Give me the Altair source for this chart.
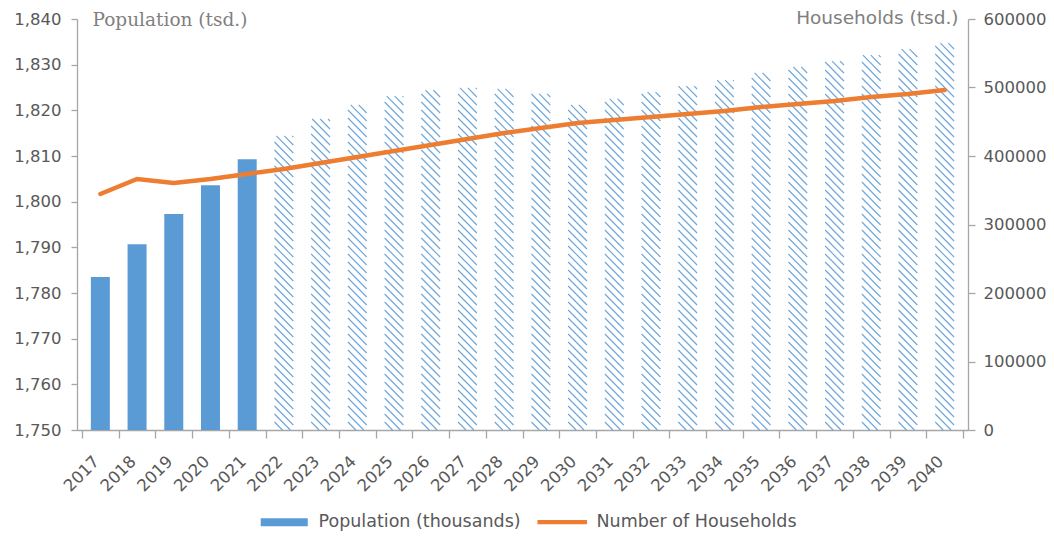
import altair as alt
import pandas as pd

years = list(range(2017, 2041))
population = [1783.5, 1790.7, 1797.3, 1803.6, 1809.3, 1814.4, 1818.1, 1821.2,
              1823.1, 1824.4, 1824.9, 1824.7, 1823.6, 1821.2, 1822.5, 1824.0,
              1825.3, 1826.6, 1828.2, 1829.5, 1830.8, 1832.1, 1833.4, 1834.7]
households = [344500, 366400, 360600, 366400, 373700, 381000, 389800, 398500,
              407300, 416000, 424800, 433600, 440900, 448200, 452600, 456900,
              461300, 465700, 471500, 475900, 480300, 486100, 490500, 496400]
last_actual_year = 2021
series_names = ["Population (thousands)", "Number of Households"]
series_colors = ["#5B9BD5", "#ED7D31"]

W, H = 891, 411
Y0, Y1 = 1750, 1840
X0, X1 = 2016.5, 2040.5
BAR_PX = 19
HATCH_GAP = 8

df = pd.DataFrame({"year": years, "pop": population, "hh": households})
df["kind"] = ["actual" if y <= last_actual_year else "forecast" for y in years]
legend_df = pd.DataFrame({"series": series_names})

pxx = W / (X1 - X0)   # px per year
pxu = H / (Y1 - Y0)   # px per population unit

x_scale = alt.Scale(domain=[X0, X1], nice=False, zero=False)
y_scale = alt.Scale(domain=[Y0, Y1], nice=False, zero=False)

# ticks at category boundaries, labels shifted half a category to the right
tick_vals = [X0 + i for i in range(int(X1 - X0) + 1)]
x_axis = alt.Axis(
    values=tick_vals, title=None,
    labelExpr=f"datum.value < {X1} ? format(datum.value + 0.5, 'd') : ''",
    labelOffset=pxx / 2 - 10,
    labelAngle=-45, labelOverlap=False, labelFlush=False, labelBound=False,
    grid=False, tickSize=8, labelPadding=15,
)
y_axis = alt.Axis(
    values=list(range(Y0, Y1 + 1, 10)), format=",d", grid=False,
    title="Population (tsd.)", titleAngle=0, titleX=15, titleY=0,
    titleAlign="left", titleBaseline="middle", titleFont="DejaVu Serif",
    titleFontSize=18.5, titleFontWeight="normal", titleColor="#7F7F7F",
    tickSize=6, labelPadding=10,
)
y2_axis = alt.Axis(
    values=list(range(0, 600001, 100000)), format="d", grid=False, orient="right",
    title="Households (tsd.)", titleAngle=0, titleX=-10, titleY=-2,
    titleAlign="right", titleBaseline="middle", titleFont="DejaVu Sans",
    titleFontSize=18.5, titleFontWeight="normal", titleColor="#7F7F7F",
    tickSize=7, labelPadding=8,
)

base = alt.Chart(df)

hatch = base.transform_filter(
    alt.datum.kind == "forecast"
).transform_calculate(
    k="sequence(1, 120)"
).transform_flatten(["k"]).transform_calculate(
    hpx=f"(datum.pop - {Y0}) * {pxu}",
    c=f"datum.k * {HATCH_GAP}",
).transform_calculate(
    u0="max(0, datum.c - datum.hpx)",
    u1=f"min({BAR_PX}, datum.c)",
).transform_filter(
    "datum.u0 < datum.u1"
).transform_calculate(
    xa=f"datum.year - {BAR_PX / 2 / pxx} + datum.u0 / {pxx}",
    xb=f"datum.year - {BAR_PX / 2 / pxx} + datum.u1 / {pxx}",
    ya=f"{Y0} + (datum.c - datum.u0) / {pxu}",
    yb=f"{Y0} + (datum.c - datum.u1) / {pxu}",
).mark_rule(color=series_colors[0], strokeWidth=1.1, opacity=0.9).encode(
    x=alt.X("xa:Q", scale=x_scale, axis=x_axis),
    x2="xb:Q",
    y=alt.Y("ya:Q", scale=y_scale, axis=y_axis),
    y2="yb:Q",
)

bars = base.transform_filter(alt.datum.kind == "actual").mark_bar(
    color=series_colors[0], size=BAR_PX
).encode(
    x=alt.X("year:Q", scale=x_scale, axis=x_axis),
    y=alt.Y("pop:Q", scale=y_scale, axis=y_axis),
    y2=alt.datum(Y0),
)

# legend symbols: nominal size 16px, paths drawn wider than the nominal box
legend_layer = alt.Chart(legend_df).transform_filter("false").mark_point(
    filled=True, opacity=1
).encode(
    color=alt.Color("series:N", scale=alt.Scale(domain=series_names, range=series_colors),
                    legend=alt.Legend(title=None, orient="none", direction="horizontal",
                                      legendX=198.5, legendY=494,
                                      symbolSize=256, symbolOpacity=1, symbolStrokeWidth=0,
                                      labelFontSize=17.5, labelColor="#595959", labelLimit=400,
                                      labelFont="DejaVu Sans", labelOffset=25.5,
                                      columnPadding=15)),
    shape=alt.Shape("series:N", scale=alt.Scale(domain=series_names,
                    range=["M-2.94,-0.5H2.94V0.5H-2.94Z", "M-3.1,-0.28H3.1V0.28H-3.1Z"])),
)

pop_layer = alt.layer(hatch, bars, legend_layer)

line = base.mark_line(color=series_colors[1], strokeWidth=4.5, strokeCap="round").encode(
    x=alt.X("year:Q", scale=x_scale, axis=x_axis),
    y=alt.Y("hh:Q", scale=alt.Scale(domain=[0, 600000], nice=False), axis=y2_axis),
)

chart = alt.layer(pop_layer, line).resolve_scale(
    y="independent"
).properties(
    width=W, height=H,
    padding={"left": 5, "top": 0, "right": 0, "bottom": 0},
).configure_view(stroke=None).configure_axis(
    labelFont="DejaVu Sans", labelFontSize=16.5, labelColor="#595959",
    domainColor="#A6A6A6", tickColor="#A6A6A6", domainWidth=1.3, tickWidth=1.3,
)

chart.save("out.html", embed_options={"renderer": "svg", "actions": False})
